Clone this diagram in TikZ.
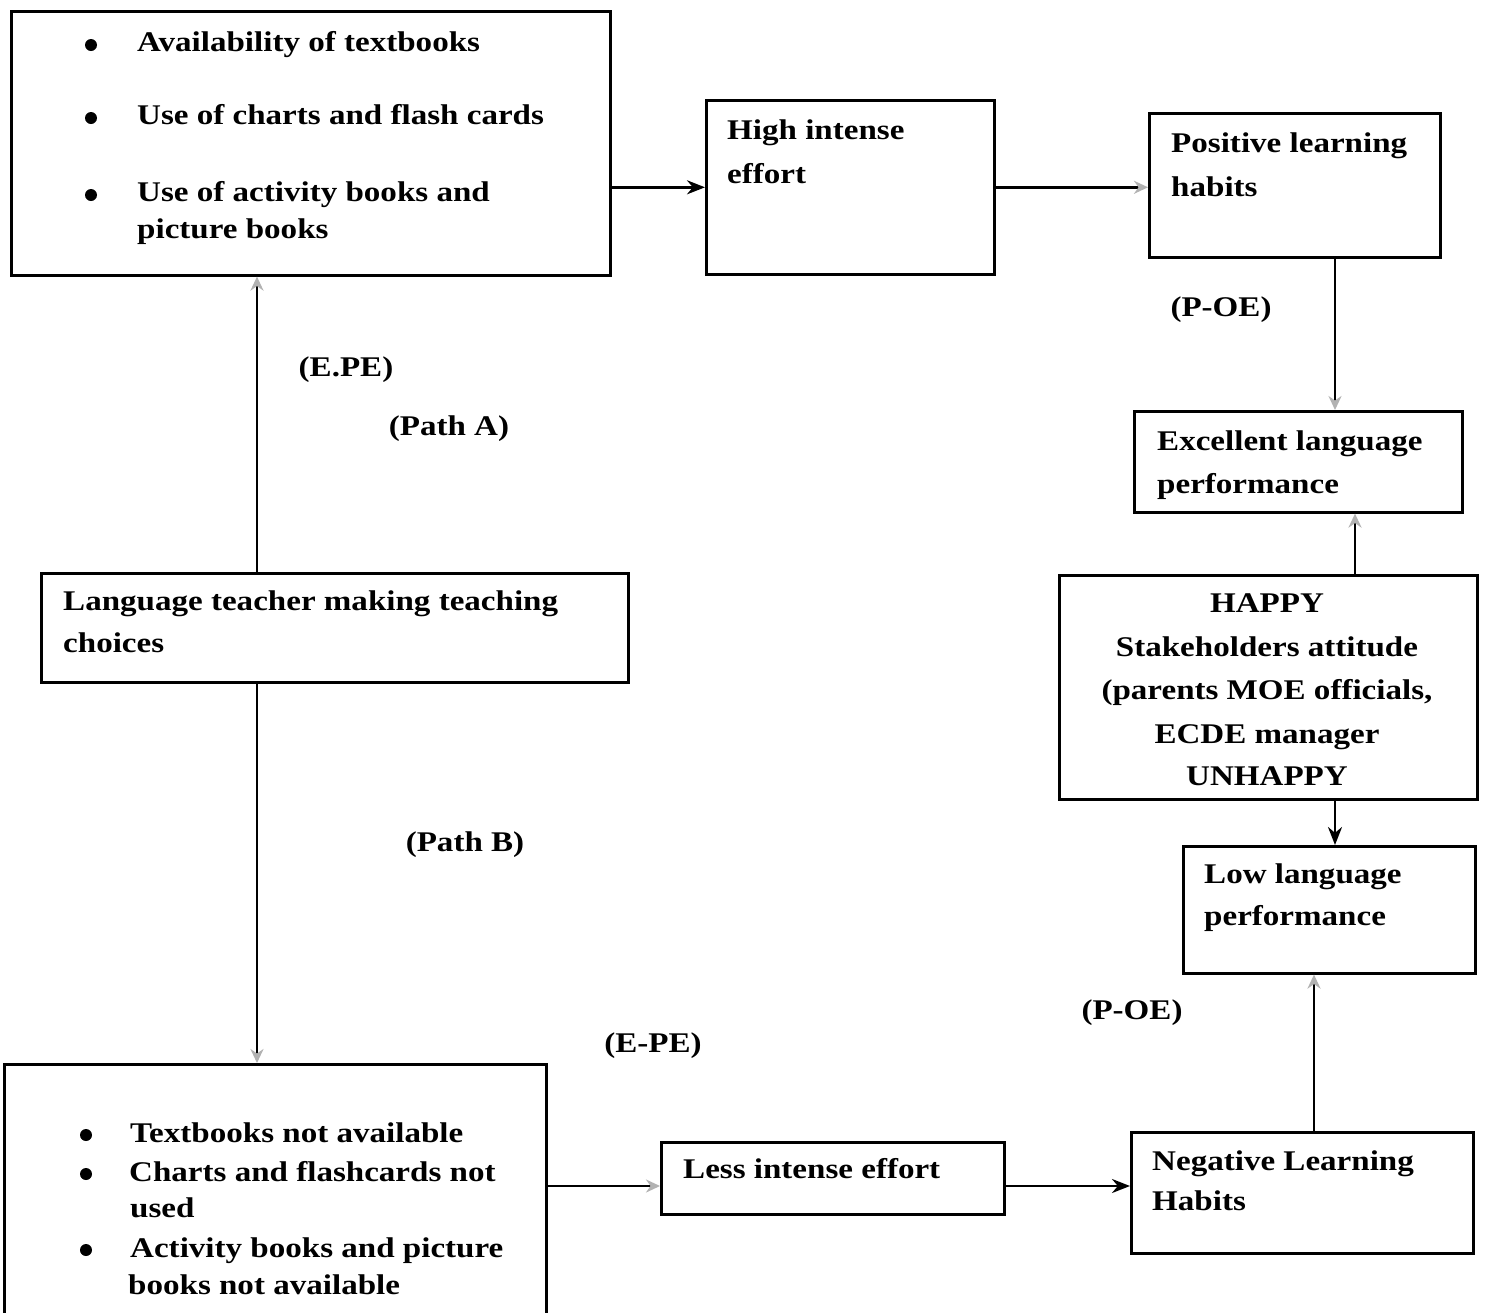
\documentclass[tikz,border=0pt]{standalone}
\usepackage{fontspec}
\setmainfont{Liberation Serif}[FakeStretch=1.16]
\usetikzlibrary{arrows.meta}

\begin{document}
\begin{tikzpicture}[
      x=1pt, y=-1pt,
      box/.style={
        draw,
        line width=2.6pt,
        anchor=north west,
        inner sep=0pt
      },
      words/.style={
        anchor=base west,
        inner sep=0pt,
        font=\fontsize{28.5}{34}\selectfont\bfseries
      },
      mid/.style={
        words,
        anchor=base
      },
      bullet/.style={
        fill=black,
        circle,
        inner sep=0pt,
        minimum size=12pt
      },
      link/.style={
        -{Stealth[length=18pt,width=14pt]},
        line width=2.6pt
      },
      fade/.style={
        -{Stealth[length=14pt,width=13pt,color=gray!60]},
        line width=2.6pt
      },
    ]

    \useasboundingbox[fill=white] (0,0) rectangle (1486,1312);

    % boxes
    \node [box, minimum width=599pt, minimum height=264pt] (tools) at (10,10) {};
    \node [box, minimum width=288pt, minimum height=174pt] (high) at (705,99) {};
    \node [box, minimum width=291pt, minimum height=144pt] (positive) at (1148,112) {};
    \node [box, minimum width=328pt, minimum height=101pt] (excellent) at (1133,410) {};
    \node [box, minimum width=418pt, minimum height=224pt] (stake) at (1058,574) {};
    \node [box, minimum width=292pt, minimum height=127pt] (low) at (1182,845) {};
    \node [box, minimum width=342pt, minimum height=121pt] (negative) at (1130,1131) {};
    \node [box, minimum width=343pt, minimum height=72pt] (less) at (660,1141) {};
    \node [box, minimum width=542pt, minimum height=290pt] (lacking) at (3,1063) {};
    \node [box, minimum width=587pt, minimum height=109pt] (teacher) at (40,572) {};

    % texts
    \node [bullet] (b1) at (91,45) {};
    \node [bullet] (b2) at (91,118) {};
    \node [bullet] (b3) at (91,195) {};
    \node [words] (t1) at (137,51) {Availability of textbooks};
    \node [words] (t2) at (137,124) {Use of charts and flash cards};
    \node [words] (t3) at (137,201) {Use of activity books and};
    \node [words] (t4) at (137,238) {picture books};

    \node [words] (h1) at (727,139) {High intense};
    \node [words] (h2) at (727,183) {effort};

    \node [words] (p1) at (1171,152) {Positive learning};
    \node [words] (p2) at (1171,196) {habits};

    \node [words] (e1) at (1157,450) {Excellent language};
    \node [words] (e2) at (1157,493) {performance};

    \node [mid] (s1) at (1267,612) {HAPPY};
    \node [mid] (s2) at (1267,656) {Stakeholders attitude};
    \node [mid] (s3) at (1267,699) {(parents MOE officials,};
    \node [mid] (s4) at (1267,743) {ECDE manager};
    \node [mid] (s5) at (1267,785) {UNHAPPY};

    \node [words] (w1) at (1204,883) {Low language};
    \node [words] (w2) at (1204,925) {performance};

    \node [words] (n1) at (1152,1170) {Negative Learning};
    \node [words] (n2) at (1152,1210) {Habits};

    \node [words] (l1) at (683,1178) {Less intense effort};

    \node [bullet] (c1) at (86,1135) {};
    \node [bullet] (c2) at (86,1174) {};
    \node [bullet] (c3) at (86,1250) {};
    \node [words] (k1) at (130,1142) {Textbooks not available};
    \node [words] (k2) at (129,1181) {Charts and flashcards not};
    \node [words] (k3) at (130,1217) {used};
    \node [words] (k4) at (130,1257) {Activity books and picture};
    \node [words] (k5) at (128,1294) {books not available};

    \node [words] (g1) at (63,610) {Language teacher making teaching};
    \node [words] (g2) at (63,652) {choices};

    % path labels
    \node [mid] (epe) at (346,376) {(E.PE)};
    \node [mid] (pa) at (449,435) {(Path A)};
    \node [mid] (poe) at (1221,316) {(P-OE)};
    \node [mid] (pb) at (465,851) {(Path B)};
    \node [mid] (epe2) at (653,1052) {(E-PE)};
    \node [mid] (poe2) at (1132,1019) {(P-OE)};

    % arrows
    \coordinate (colL) at (257,0);
    \coordinate (colR) at (1335,0);
    \coordinate (colS) at (1355,0);
    \coordinate (colT) at (1314,0);
    \coordinate (rowB) at (0,1186);

    \draw [link] (tools.east |- high.west) -- (high.west);
    \draw [fade] (high.east) -- (positive.west |- high.east);
    \draw [fade] (positive.south -| colR) -- (excellent.north -| colR);
    \draw [fade] (stake.north -| colS) -- (excellent.south -| colS);
    \draw [link] (stake.south -| colR) -- (low.north -| colR);
    \draw [fade] (negative.north -| colT) -- (low.south -| colT);
    \draw [link] (less.east |- rowB) -- (negative.west |- rowB);
    \draw [fade] (lacking.east |- rowB) -- (less.west |- rowB);
    \draw [fade] (teacher.north -| colL) -- (tools.south -| colL);
    \draw [fade] (teacher.south -| colL) -- (lacking.north -| colL);
  \end{tikzpicture}
\end{document}
